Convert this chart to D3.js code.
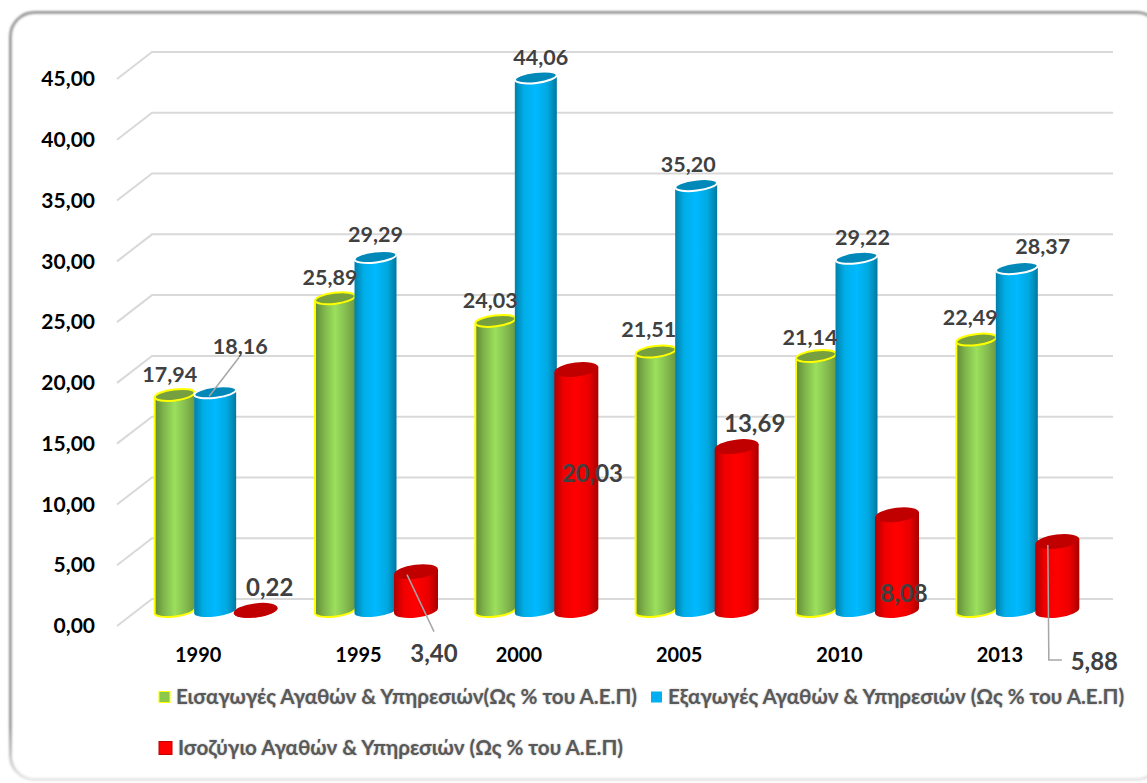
<!DOCTYPE html>
<html lang="el">
<head>
<meta charset="utf-8">
<title>Ισοζύγιο Αγαθών & Υπηρεσιών</title>
<script src="https://cdn.jsdelivr.net/npm/d3@7"></script>
<style>
  html, body { margin: 0; padding: 0; background: #fff; }
  svg { display: block; }
  text { font-family: Lato, "Noto Sans", sans-serif; }
</style>
</head>
<body>
<div id="chart"></div>
<script>
const years = ["1990", "1995", "2000", "2005", "2010", "2013"];
const imports = [17.94, 25.89, 24.03, 21.51, 21.14, 22.49];
const exports_ = [18.16, 29.29, 44.06, 35.2, 29.22, 28.37];
const balance = [0.22, 3.4, 20.03, 13.69, 8.08, 5.88];
const yTicks = [0, 5, 10, 15, 20, 25, 30, 35, 40, 45];
const legendNames = [
  "Εισαγωγές Αγαθών & Υπηρεσιών(Ως % του Α.Ε.Π)",
  "Εξαγωγές Αγαθών & Υπηρεσιών (Ως % του Α.Ε.Π)",
  "Ισοζύγιο Αγαθών & Υπηρεσιών (Ως % του Α.Ε.Π)"
];

const width = 1147;
const height = 783;
const depthX = 35; // 3D floor offset of the back wall
const depthY = 27;
const baseLift = 13; // bars stand in the middle of the floor

const series = [
  {
    key: "imports", values: imports, width: 40, ry: 5.5, baseTrim: 2,
    stops: ["#5f8a38", "#7fb44a", "#9be05c", "#84bb4f", "#6c9a40"],
    top: "#76a03f", edge: "#ffff00", topStroke: "#ffff00", topWidth: 2
  },
  {
    key: "exports", values: exports_, width: 42, ry: 5.5, baseTrim: 2,
    stops: ["#0080aa", "#00aee8", "#00b9ff", "#00a8e0", "#0078a0"],
    top: "#0088b8", edge: "none", topStroke: "#ffffff", topWidth: 2
  },
  {
    key: "balance", values: balance, width: 44, ry: 7, baseTrim: 2.5,
    stops: ["#b00000", "#f00000", "#ff0000", "#ea0000", "#a80000"],
    top: "#c00000", edge: "none", topStroke: "none", topWidth: 0
  }
];

// label offsets from the top centre of each bar, per series then per year
const labelOffsets = {
  imports: [[-5, -20], [-5, -21], [-5, -20], [-7, -22], [-6, -19], [-6, -22]],
  exports: [[25, -46], [0, -22], [5, -20], [-8, -21], [6, -20], [26, -22]],
  balance: [[14, -23], [18, 82], [16, 104], [18, -23], [7, 79], [37, 120]]
};

// leader lines, same offsets as the labels
const leaders = [
  { series: "exports", year: "1990", points: [[24, -35], [-6, 4]] },
  { series: "balance", year: "1995", points: [[-9, 3], [18, 60]] },
  { series: "balance", year: "2013", points: [[-9.5, 3.5], [-8.5, 118.5], [4.5, 118.5]] }
];

const svg = d3
  .select("#chart")
  .append("svg")
  .attr("width", width)
  .attr("height", height);

const defs = svg.append("defs");

defs
  .append("filter")
  .attr("id", "soft")
  .attr("x", "-5%")
  .attr("y", "-5%")
  .attr("width", "110%")
  .attr("height", "110%")
  .append("feGaussianBlur")
  .attr("stdDeviation", 0.9);

const frameGradient = defs
  .append("linearGradient")
  .attr("id", "frameStroke")
  .attr("x1", 0)
  .attr("y1", 0)
  .attr("x2", 0)
  .attr("y2", 1);
frameGradient.append("stop").attr("offset", "0%").attr("stop-color", "#969696");
frameGradient.append("stop").attr("offset", "93%").attr("stop-color", "#969696");
frameGradient.append("stop").attr("offset", "100%").attr("stop-color", "#e6e6e6");

series.forEach(s => {
  const gradient = defs
    .append("linearGradient")
    .attr("id", `body-${s.key}`)
    .attr("x1", 0)
    .attr("y1", 0)
    .attr("x2", 1)
    .attr("y2", 0);
  [0, 0.22, 0.5, 0.78, 1].forEach((offset, i) => {
    gradient
      .append("stop")
      .attr("offset", offset)
      .attr("stop-color", s.stops[i]);
  });
});

// Frame
svg
  .append("rect")
  .attr("x", 10.5)
  .attr("y", 12.5)
  .attr("width", 1150)
  .attr("height", 767)
  .attr("rx", 24)
  .attr("fill", "#fff")
  .attr("stroke", "url(#frameStroke)")
  .attr("stroke-width", 3)
  .attr("filter", "url(#soft)");

const y = d3.scaleLinear().domain([0, 45]).range([626, 79]);
const x = d3.scaleBand().domain(years).range([136.5, 1098.5]);
const inner = d3
  .scalePoint()
  .domain(series.map(s => s.key))
  .range([-42, 39]);

const barCenter = (key, year) =>
  x(year) + x.bandwidth() / 2 + inner(key);
const barTop = value => y(value) - baseLift;

// Grid: floor edge then back wall
svg
  .append("g")
  .selectAll("path")
  .data(yTicks)
  .join("path")
  .attr("fill", "none")
  .attr("stroke", "#d9d9d9")
  .attr("stroke-width", 2)
  .attr("d", d => {
    const line = d3.path();
    line.moveTo(117, y(d));
    line.lineTo(117 + depthX, y(d) - depthY);
    line.lineTo(1113, y(d) - depthY);
    return line.toString();
  });

// Y axis
const yAxis = svg
  .append("g")
  .attr("transform", "translate(95,0)")
  .call(
    d3
      .axisLeft(y)
      .tickValues(yTicks)
      .tickSize(0)
      .tickPadding(0)
      .tickFormat(d => d3.format(".2f")(d).replace(".", ","))
  );
yAxis.select(".domain").remove();
yAxis
  .selectAll("text")
  .attr("fill", "#000")
  .style("font-size", "21px")
  .style("font-weight", 700);

// X axis labels
svg
  .append("g")
  .selectAll("text")
  .data(years)
  .join("text")
  .attr("x", d => x(d) + x.bandwidth() / 2 - 18.5)
  .attr("y", 655)
  .attr("dy", "0.35em")
  .attr("text-anchor", "middle")
  .attr("fill", "#000")
  .style("font-size", "20px")
  .style("font-weight", 700)
  .text(d => d);

const tilt = 7;

/**
 * Cylinder side, bottom curve included
 */
function cylinderBody(cx, top, base, w, ry) {
  const rx = w / 2;
  const dy = rx * Math.sin((tilt * Math.PI) / 180);
  return (
    `M${cx - rx},${top + dy}L${cx - rx},${base + dy}` +
    `A${rx},${ry} ${-tilt} 0 0 ${cx + rx},${base - dy}` +
    `L${cx + rx},${top - dy}Z`
  );
}

/**
 * Left side and bottom curve only, the yellow outline stops at the right edge
 */
function cylinderEdge(cx, top, base, w, ry) {
  const rx = w / 2;
  const dy = rx * Math.sin((tilt * Math.PI) / 180);
  return (
    `M${cx - rx},${top + dy}L${cx - rx},${base + dy}` +
    `A${rx},${ry} ${-tilt} 0 0 ${cx + rx},${base - dy}`
  );
}

// Bars
const groups = svg
  .append("g")
  .selectAll("g")
  .data(years)
  .join("g");

groups.each(function (year, i) {
  const group = d3.select(this);
  series.forEach(s => {
    const value = s.values[i];
    const cx = barCenter(s.key, year);
    const top = barTop(value);
    const base = barTop(0) - s.baseTrim;

    group
      .append("path")
      .attr("d", cylinderBody(cx, top, base, s.width, s.ry))
      .attr("fill", `url(#body-${s.key})`);

    if (s.edge !== "none") {
      group
        .append("path")
        .attr("d", cylinderEdge(cx, top, base, s.width, s.ry))
        .attr("fill", "none")
        .attr("stroke", s.edge)
        .attr("stroke-width", 2);
    }

    group
      .append("ellipse")
      .attr("cx", cx)
      .attr("cy", top)
      .attr("rx", s.width / 2)
      .attr("ry", s.ry)
      .attr("transform", `rotate(${-tilt} ${cx} ${top})`)
      .attr("fill", s.top)
      .attr("stroke", s.topStroke)
      .attr("stroke-width", s.topWidth);
  });
});

// Leader lines
svg
  .append("g")
  .selectAll("path")
  .data(leaders)
  .join("path")
  .attr("fill", "none")
  .attr("stroke", "#a6a6a6")
  .attr("stroke-width", 1.5)
  .attr("d", d => {
    const s = series.find(item => item.key === d.series);
    const cx = barCenter(d.series, d.year);
    const top = barTop(s.values[years.indexOf(d.year)]);
    return d3.line()(d.points.map(p => [cx + p[0], top + p[1]]));
  });

// Value labels
series.forEach(s => {
  svg
    .append("g")
    .selectAll("text")
    .data(s.values)
    .join("text")
    .attr("x", (d, i) => barCenter(s.key, years[i]) + labelOffsets[s.key][i][0])
    .attr("y", (d, i) => barTop(d) + labelOffsets[s.key][i][1])
    .attr("dy", "0.35em")
    .attr("text-anchor", "middle")
    .attr("fill", "#404040")
    .style("font-size", s.key === "balance" ? "24px" : "21.5px")
    .style("font-weight", 700)
    .text(d => d3.format(".2f")(d).replace(".", ","));
});

// Legend
const legendPlaces = [
  { x: 159, y: 697, size: 11 },
  { x: 651, y: 697, size: 11 },
  { x: 159, y: 748, size: 13 }
];
const legendColors = [
  { fill: "#8cc94a", stroke: "#ffff00" },
  { fill: "#00b0f0", stroke: "none" },
  { fill: "#ff0000", stroke: "#c00000" }
];

const legend = svg
  .append("g")
  .selectAll("g")
  .data(legendNames)
  .join("g")
  .attr("transform", (d, i) => `translate(${legendPlaces[i].x},${legendPlaces[i].y})`);

legend
  .append("rect")
  .attr("x", 0)
  .attr("y", (d, i) => -legendPlaces[i].size / 2)
  .attr("width", (d, i) => legendPlaces[i].size)
  .attr("height", (d, i) => legendPlaces[i].size)
  .attr("fill", (d, i) => legendColors[i].fill)
  .attr("stroke", (d, i) => legendColors[i].stroke);

legend
  .append("text")
  .attr("x", (d, i) => legendPlaces[i].size + 6)
  .attr("dy", "0.35em")
  .attr("fill", "#595959")
  .style("font-size", "20.6px")
  .style("font-weight", 700)
  .style("text-shadow", "0 0 2px #b0b0b0")
  .text(d => d);
</script>
</body>
</html>
